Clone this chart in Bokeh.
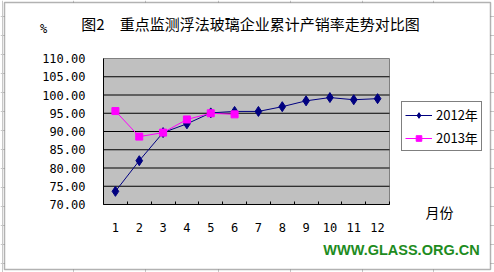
from bokeh.plotting import figure
from bokeh.models import (FixedTicker, Label, Legend, LegendItem, BoxAnnotation,
                          ColumnDataSource, Range1d, LinearAxis, Span)
from bokeh.embed import file_html
from bokeh.resources import INLINE

months = list(range(1, 13))
month_labels = [str(m) for m in months]
sales_2012 = [73.6, 82.0, 89.7, 92.1, 95.1, 95.5, 95.5, 96.8, 98.4, 99.3, 98.7, 99.0]
months_2013 = [1, 2, 3, 4, 5, 6]
sales_2013 = [95.6, 88.6, 89.7, 93.3, 95.0, 94.7]
y_ticks = [70, 75, 80, 85, 90, 95, 100, 105, 110]
title_text = "图2\u3000重点监测浮法玻璃企业累计产销率走势对比图"

W, H = 494, 272
# plot-area box in canvas pixels (left, right, top, bottom)
PX0, PX1, PY0, PY1 = 103, 389, 58, 204
XMIN, XMAX = 0.5, 12.5
YMIN, YMAX = y_ticks[0], y_ticks[-1]
xs = (XMAX - XMIN) / (PX1 - PX0)
ys = (YMAX - YMIN) / (PY1 - PY0)
x_range = Range1d(XMIN - PX0 * xs, XMAX + (W - PX1) * xs)
y_range = Range1d(YMIN - (H - PY1) * ys, YMAX + PY0 * ys)

p = figure(width=W, height=H, output_backend="svg", toolbar_location=None,
           x_range=x_range, y_range=y_range,
           x_axis_location=None, y_axis_location=None,
           min_border=0, min_border_left=0, min_border_right=0,
           min_border_top=0, min_border_bottom=0)
p.title.visible = False
p.outline_line_color = None
p.background_fill_color = "white"
p.border_fill_color = "white"
p.xgrid.visible = False
p.ygrid.visible = False

# spreadsheet cell lines behind the chart
for cx in [2, 73, 145, 218, 290, 362, 433]:
    p.add_layout(Span(location=cx, dimension="height", location_units="screen",
                      line_color="#C8C8C8", line_width=1, level="underlay"))
for cy in [16, 35, 54, 73, 92, 111, 130, 149, 168, 187, 206, 225, 244, 263]:
    p.add_layout(Span(location=H - cy, dimension="width", location_units="screen",
                      line_color="#C8C8C8", line_width=1, level="underlay"))
# chart area (white, black border)
p.add_layout(BoxAnnotation(left=4, right=490, top=H - 2, bottom=H - 269,
                           left_units="screen", right_units="screen",
                           top_units="screen", bottom_units="screen",
                           fill_color="white", fill_alpha=1,
                           line_color="black", line_width=1.5, level="underlay"))

# plot area
p.quad(left=XMIN, right=XMAX, bottom=YMIN, top=YMAX,
       fill_color="#C0C0C0", line_color="#808080", line_width=1)
grid_y = y_ticks[1:-1]
p.segment(x0=[XMIN] * len(grid_y), x1=[XMAX] * len(grid_y), y0=grid_y, y1=grid_y,
          line_color="black", line_width=1)

# axes
xaxis = LinearAxis(fixed_location=YMIN, bounds=(XMIN, XMAX))
xaxis.ticker = FixedTicker(ticks=months, minor_ticks=[m + 0.5 for m in range(0, 13)])
xaxis.major_label_overrides = {m: s for m, s in zip(months, month_labels)}
xaxis.major_tick_line_color = None
xaxis.minor_tick_in = 3
xaxis.minor_tick_out = 0
xaxis.minor_tick_line_color = "black"
xaxis.axis_line_color = "black"
xaxis.major_label_standoff = 12
xaxis.major_label_text_font = "DejaVu Sans Mono"
xaxis.major_label_text_font_size = "12px"
xaxis.major_label_text_color = "black"
p.add_layout(xaxis, "below")

yaxis = LinearAxis(fixed_location=XMIN, bounds=(YMIN, YMAX))
yaxis.ticker = FixedTicker(ticks=y_ticks)
yaxis.major_label_overrides = {t: f"{t:.2f}" for t in y_ticks}
yaxis.major_tick_line_color = None
yaxis.minor_tick_line_color = None
yaxis.major_tick_out = 0
yaxis.major_tick_in = 0
yaxis.axis_line_color = "black"
yaxis.major_label_standoff = 18
yaxis.major_label_text_font = "DejaVu Sans Mono"
yaxis.major_label_text_font_size = "12px"
yaxis.major_label_text_color = "black"
p.add_layout(yaxis, "left")

src12 = ColumnDataSource(dict(x=months, y=sales_2012))
src13 = ColumnDataSource(dict(x=months_2013, y=sales_2013))
l12 = p.line("x", "y", source=src12, color="#000080", line_width=1)
m12 = p.scatter("x", "y", source=src12, marker="diamond", size=10,
                fill_color="#000080", line_color="#000080")
l13 = p.line("x", "y", source=src13, color="#FF00FF", line_width=1)
m13 = p.scatter("x", "y", source=src13, marker="square", size=7,
                fill_color="#FF00FF", line_color="#FF00FF")

legend = Legend(items=[LegendItem(label="2012年", renderers=[l12, m12]),
                       LegendItem(label="2013年", renderers=[l13, m13])],
                location=(401, H - 151))
legend.border_line_color = "black"
legend.border_line_width = 1
legend.background_fill_color = "white"
legend.background_fill_alpha = 1
legend.label_text_font = "Noto Sans CJK SC"
legend.label_text_font_size = "13px"
legend.label_text_color = "black"
legend.glyph_width = 27
legend.glyph_height = 14
legend.label_standoff = 4
legend.spacing = 4
legend.padding = 3
legend.margin = 0
p.add_layout(legend, "center")


def lab(text, x, y, size, font="Noto Sans CJK SC", color="black", bold=False,
        align="left", baseline="middle"):
    p.add_layout(Label(x=x, y=H - y, x_units="screen", y_units="screen", text=text,
                       text_font=font, text_font_size=size, text_color=color,
                       text_font_style="bold" if bold else "normal",
                       text_align=align, text_baseline=baseline))


lab(title_text, 250, 23, "15px", align="center")
lab("%", 43, 28, "12px", font="DejaVu Sans Mono", align="center")
lab("月份", 439, 211, "14px", align="center")
lab("WWW.GLASS.ORG.CN", 401, 249, "14.5px", font="Liberation Sans",
    color="#1E8C1E", bold=True, align="center")

open("out.html", "w").write(file_html(p, INLINE))
